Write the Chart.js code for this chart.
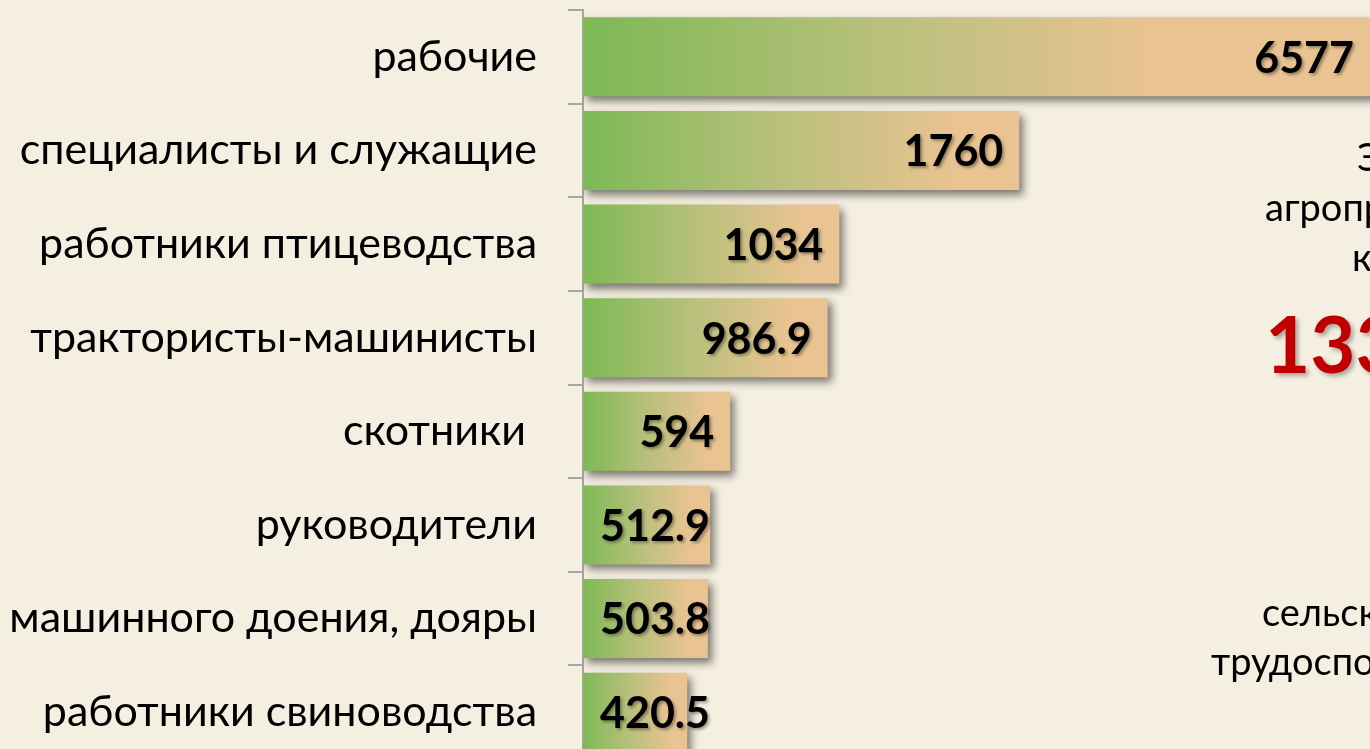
<!DOCTYPE html>
<html lang="ru">
<head>
<meta charset="utf-8">
<title>Численность работников</title>
<script src="https://cdn.jsdelivr.net/npm/chart.js@4.4.1/dist/chart.umd.min.js"></script>
<style>
  html, body { margin: 0; padding: 0; overflow: hidden; background: #F4EFE1; }
  body { width: 1370px; height: 749px; position: relative; font-family: Lato, "Noto Sans", sans-serif; }
  #wrap { position: absolute; left: 0; top: 0; width: 1370px; height: 770px; }
  .side { position: absolute; white-space: nowrap; color: #000; font-size: 38px; line-height: 1; }
  .big { color: #C00000; font-weight: bold; font-size: 78px; text-shadow: 3px 3px 4px rgba(0,0,0,0.3); }
</style>
</head>
<body>
<div id="wrap"><canvas id="barChart" width="1370" height="770"></canvas></div>
<div class="side" style="left:1357px; top:137px;">Э</div>
<div class="side" style="left:1265px; top:187px;">агропр</div>
<div class="side" style="left:1352px; top:237px;">к</div>
<div class="side big" style="left:1265px; top:304px;">133</div>
<div class="side" style="left:1262px; top:592px;">сельск</div>
<div class="side" style="left:1211px; top:641px;">трудоспо</div>
<script>
// --- данные ---
const categories = [
    'рабочие',
    'специалисты и служащие',
    'работники птицеводства',
    'трактористы-машинисты',
    'скотники ',
    'руководители',
    'операторы машинного доения, дояры',
    'работники свиноводства'
];
const workers = [6577, 1760, 1034, 986.9, 594, 512.9, 503.8, 420.5];
const valueLabels = ['6577', '1760', '1034', '986.9', '594', '512.9', '503.8', '420.5'];

// --- цвета ---
const GREEN = '#7DB955';
const PEACH = '#E9C391';
const AXIS_GRAY = '#A6A6A6';

function barGradient(context) {
    const chart = context.chart;
    const area = chart.chartArea;
    if (!area || context.type !== 'data') return GREEN;
    const xs = chart.scales.x;
    const x0 = xs.getPixelForValue(0);
    const x1 = Math.min(xs.getPixelForValue(context.raw), area.right - 120);
    const g = chart.ctx.createLinearGradient(x0, 0, Math.max(x1, x0 + 1), 0);
    g.addColorStop(0, GREEN);
    g.addColorStop(0.45, '#B9C07C');
    g.addColorStop(0.85, PEACH);
    g.addColorStop(1, PEACH);
    return g;
}

// тень под столбцами
const barShadow = {
    id: 'barShadow',
    beforeDatasetsDraw(chart) {
        const ctx = chart.ctx;
        ctx.save();
        ctx.shadowColor = 'rgba(0,0,0,0.5)';
        ctx.shadowBlur = 8;
        ctx.shadowOffsetX = 4;
        ctx.shadowOffsetY = 5;
    },
    afterDatasetsDraw(chart) {
        chart.ctx.restore();
    }
};

// подписи значений у конца столбца
const valueTags = {
    id: 'valueTags',
    afterDatasetsDraw(chart) {
        const ctx = chart.ctx;
        const area = chart.chartArea;
        const x0 = chart.scales.x.getPixelForValue(0);
        const meta = chart.getDatasetMeta(0);
        ctx.save();
        ctx.font = 'bold 43px Lato, "Noto Sans", sans-serif';
        ctx.textAlign = 'right';
        ctx.textBaseline = 'middle';
        ctx.fillStyle = '#000';
        ctx.shadowColor = 'rgba(0,0,0,0.35)';
        ctx.shadowBlur = 3;
        ctx.shadowOffsetX = 2;
        ctx.shadowOffsetY = 2;
        meta.data.forEach((bar, i) => {
            const text = valueLabels[i];
            const w = ctx.measureText(text).width;
            const end = Math.min(bar.x, area.right);
            const x = Math.max(end - 16, x0 + 17 + w);
            ctx.fillText(text, x, bar.y + 2);
        });
        ctx.restore();
    }
};

document.addEventListener('DOMContentLoaded', () => {
    const ctx = document.getElementById('barChart').getContext('2d');
    new Chart(ctx, {
        type: 'bar',
        data: {
            labels: categories,
            datasets: [{
                data: workers,
                backgroundColor: barGradient,
                borderWidth: 0,
                barPercentage: 0.845,
                categoryPercentage: 1.0
            }]
        },
        options: {
            indexAxis: 'y',
            responsive: false,
            animation: false,
            devicePixelRatio: 1,
            layout: { padding: { top: 10, bottom: 11, left: 0, right: 0 } },
            scales: {
                x: { display: false, min: 0, max: 3175 },
                y: {
                    afterFit(scale) {
                        scale.width = 583;
                        scale.paddingTop = 0;
                        scale.paddingBottom = 0;
                    },
                    grid: {
                        offset: true,
                        drawOnChartArea: false,
                        drawTicks: true,
                        tickLength: 15,
                        color: AXIS_GRAY,
                        lineWidth: 2
                    },
                    border: { display: true, color: AXIS_GRAY, width: 2 },
                    ticks: {
                        color: '#000',
                        padding: 31,
                        autoSkip: false,
                        font: { family: 'Lato, "Noto Sans", sans-serif', size: 43 }
                    }
                }
            },
            plugins: {
                legend: { display: false },
                tooltip: { enabled: false }
            }
        },
        plugins: [barShadow, valueTags]
    });
});
</script>
</body>
</html>
